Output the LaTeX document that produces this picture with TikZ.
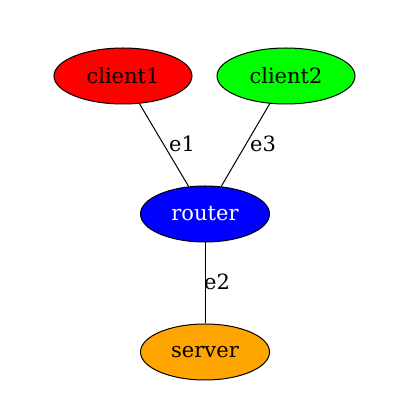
\documentclass[tikz,border=0pt]{standalone}
\usepackage{fontspec}
\setmainfont{DejaVu Serif}
\usetikzlibrary{shapes.geometric}
\definecolor{gvgreen}{HTML}{00FF00}
\definecolor{gvorange}{HTML}{FFA500}
\begin{document}
\begin{tikzpicture}[x=1pt,y=1pt,
  gvnode/.style={ellipse,draw=black,line width=1pt,inner sep=0pt,font=\fontsize{21}{24}\selectfont},
  wide/.style={minimum width=138pt,minimum height=56pt},
  narrow/.style={minimum width=129pt,minimum height=56pt},
  lbl/.style={font=\fontsize{21}{24}\selectfont,inner sep=0pt},
  edge/.style={draw=black,line width=1pt}]
\useasboundingbox (0,0) rectangle (408,407);
\node[gvnode,wide,fill=red] (client1) at (123,331) {client1};
\node[gvnode,wide,fill=gvgreen] (client2) at (286,331) {client2};
\node[gvnode,narrow,fill=blue,text=white] (router) at (205,193) {router};
\node[gvnode,narrow,fill=gvorange] (server) at (205,55) {server};
\path[edge] (client1) -- (router);
\path[edge] (client2) -- (router);
\path[edge] (router) -- (server);
\node[lbl] (e1) at (182,263) {e1};
\node[lbl] (e3) at (263,263) {e3};
\node[lbl] (e2) at (217,125) {e2};
\end{tikzpicture}
\end{document}
